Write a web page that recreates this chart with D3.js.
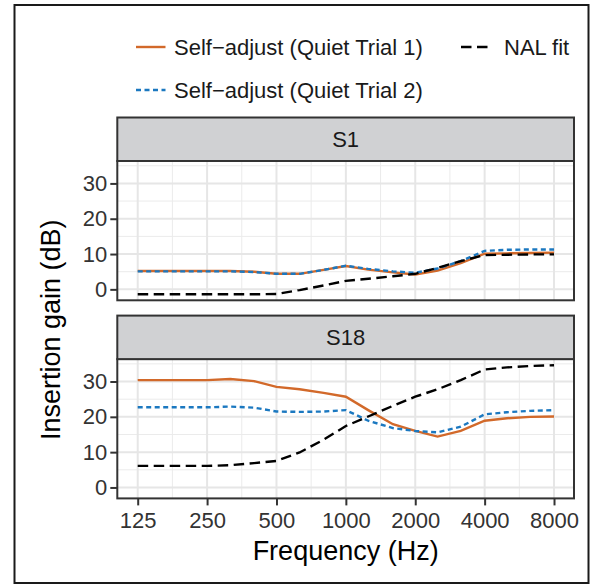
<!DOCTYPE html>
<html>
<head>
<meta charset="utf-8">
<script src="https://cdn.jsdelivr.net/npm/d3@7"></script>
<style>
  body { margin: 0; background: #fff; }
  text { font-family: "Liberation Sans", Arial, Helvetica, sans-serif; }
</style>
</head>
<body>
<script>
// insertion gain by frequency, one facet per subject

// data
var freqs = [125, 160, 200, 250, 315, 400, 500, 630, 800, 1000, 1250, 1600, 2000, 2500, 3150, 4000, 5000, 6300, 8000];
var xTicks = [125, 250, 500, 1000, 2000, 4000, 8000];
var yTicks = [0, 10, 20, 30];
var panels = ["S1", "S18"];
var seriesNames = ["Self\u2212adjust (Quiet Trial 1)", "Self\u2212adjust (Quiet Trial 2)", "NAL fit"];

var s1Trial1 = [5.2, 5.2, 5.2, 5.2, 5.2, 5.0, 4.4, 4.4, 5.5, 6.6, 5.6, 4.8, 4.2, 5.3, 7.4, 10.1, 10.2, 10.3, 10.4];
var s1Trial2 = [5.1, 5.1, 5.1, 5.1, 5.1, 4.9, 4.4, 4.4, 5.5, 6.7, 5.8, 5.1, 4.7, 5.9, 8.0, 10.9, 11.2, 11.3, 11.3];
var s1Nal    = [-1.4, -1.4, -1.4, -1.4, -1.4, -1.4, -1.3, -0.2, 1.1, 2.4, 3.0, 3.7, 4.4, 6.1, 8.0, 9.7, 9.8, 9.9, 9.9];

var s18Trial1 = [30.4, 30.4, 30.4, 30.4, 30.7, 30.1, 28.5, 27.8, 26.8, 25.7, 21.9, 17.9, 16.0, 14.4, 16.0, 18.9, 19.6, 20.0, 20.1];
var s18Trial2 = [22.7, 22.7, 22.7, 22.7, 22.9, 22.6, 21.5, 21.4, 21.5, 21.9, 18.9, 16.8, 16.0, 15.6, 17.2, 20.7, 21.3, 21.7, 21.9];
var s18Nal    = [6.1, 6.1, 6.1, 6.1, 6.3, 6.9, 7.5, 9.9, 13.5, 17.4, 20.1, 23.1, 25.7, 27.8, 30.4, 33.4, 34.0, 34.4, 34.6];

var panelData = [
    [s1Trial1, s1Trial2, s1Nal],
    [s18Trial1, s18Trial2, s18Nal]
];

// styles
var colors = ["#D2692A", "#1B78C0", "#000000"];
var dashes = [null, "5,3.5", "10.5,5.5"];

// layout
var svgWidth = 600;
var svgHeight = 586;
var panelLeft = 117.3;
var panelRight = 574;
var stripH = 43.5;
var panelH = 139.3;
var stripTops = [117.5, 315.6];

var svg = d3.select("body")
    .append("svg")
    .attr("width", svgWidth)
    .attr("height", svgHeight);

svg.append("rect")
    .attr("width", svgWidth)
    .attr("height", svgHeight)
    .attr("fill", "#fff");

// outer frame
svg.append("rect")
    .attr("x", 14.5)
    .attr("y", 5)
    .attr("width", 574)
    .attr("height", 578)
    .attr("fill", "none")
    .attr("stroke", "#1a1a1a")
    .attr("stroke-width", 2);

// x scale, log2 with ggplot style expansion
var xScale = d3.scaleLog()
    .base(2)
    .domain([125 / Math.pow(2, 0.294), 8000 * Math.pow(2, 0.288)])
    .range([panelLeft, panelRight]);

var xMinor = [];
for (var i = 0; i < xTicks.length - 1; i++) {
    xMinor.push(Math.sqrt(xTicks[i] * xTicks[i + 1]));
}
var yMinor = [5, 15, 25, 35];

panels.forEach(function(name, p) {
    var top = stripTops[p] + stripH;
    var bottom = top + panelH;

    var yScale = d3.scaleLinear()
        .domain([-3.1, 36.35])
        .range([bottom, top]);

    var g = svg.append("g");

    // grid
    g.selectAll(".xminor")
        .data(xMinor)
        .enter()
        .append("line")
        .attr("x1", d => xScale(d))
        .attr("x2", d => xScale(d))
        .attr("y1", top)
        .attr("y2", bottom)
        .attr("stroke", "#EBEBEB")
        .attr("stroke-width", 1);

    g.selectAll(".yminor")
        .data(yMinor)
        .enter()
        .append("line")
        .attr("x1", panelLeft)
        .attr("x2", panelRight)
        .attr("y1", d => yScale(d))
        .attr("y2", d => yScale(d))
        .attr("stroke", "#EBEBEB")
        .attr("stroke-width", 1);

    g.selectAll(".xmajor")
        .data(xTicks)
        .enter()
        .append("line")
        .attr("x1", d => xScale(d))
        .attr("x2", d => xScale(d))
        .attr("y1", top)
        .attr("y2", bottom)
        .attr("stroke", "#E6E6E6")
        .attr("stroke-width", 2);

    g.selectAll(".ymajor")
        .data(yTicks)
        .enter()
        .append("line")
        .attr("x1", panelLeft)
        .attr("x2", panelRight)
        .attr("y1", d => yScale(d))
        .attr("y2", d => yScale(d))
        .attr("stroke", "#E6E6E6")
        .attr("stroke-width", 2);

    // lines
    var line = d3.line()
        .x((d, k) => xScale(freqs[k]))
        .y(d => yScale(d));

    panelData[p].forEach(function(vals, s) {
        g.append("path")
            .datum(vals)
            .attr("d", line)
            .attr("fill", "none")
            .attr("stroke", colors[s])
            .attr("stroke-width", 2.4)
            .attr("stroke-dasharray", dashes[s]);
    });

    // panel border
    g.append("rect")
        .attr("x", panelLeft)
        .attr("y", top)
        .attr("width", panelRight - panelLeft)
        .attr("height", panelH)
        .attr("fill", "none")
        .attr("stroke", "#333")
        .attr("stroke-width", 2);

    // strip
    g.append("rect")
        .attr("x", panelLeft)
        .attr("y", stripTops[p])
        .attr("width", panelRight - panelLeft)
        .attr("height", stripH)
        .attr("fill", "#D0D1D3")
        .attr("stroke", "#333")
        .attr("stroke-width", 2);

    g.append("text")
        .attr("x", (panelLeft + panelRight) / 2)
        .attr("y", stripTops[p] + stripH / 2 + 8)
        .attr("text-anchor", "middle")
        .attr("font-size", 22)
        .attr("fill", "#1a1a1a")
        .text(name);

    // y axis
    var yAxis = g.append("g")
        .attr("transform", `translate(${panelLeft}, 0)`)
        .call(d3.axisLeft(yScale).tickValues(yTicks).tickSize(7).tickPadding(3));
    yAxis.select(".domain").remove();
    yAxis.selectAll("line").attr("stroke", "#333").attr("stroke-width", 2);
    yAxis.selectAll("text")
        .attr("font-size", 22)
        .attr("font-family", "Liberation Sans, Arial, sans-serif")
        .attr("fill", "#333");

    // x axis only on the bottom panel
    if (p === panels.length - 1) {
        var xAxis = g.append("g")
            .attr("transform", `translate(0, ${bottom})`)
            .call(d3.axisBottom(xScale).tickValues(xTicks).tickFormat(d3.format("d")).tickSize(7).tickPadding(7));
        xAxis.select(".domain").remove();
        xAxis.selectAll("line").attr("stroke", "#333").attr("stroke-width", 2);
        xAxis.selectAll("text")
            .attr("font-size", 22)
            .attr("font-family", "Liberation Sans, Arial, sans-serif")
            .attr("fill", "#333");

        g.append("text")
            .attr("x", (panelLeft + panelRight) / 2)
            .attr("y", 560)
            .attr("text-anchor", "middle")
            .attr("font-size", 27)
            .attr("fill", "#000")
            .text("Frequency (Hz)");
    }
});

// y title
svg.append("text")
    .attr("transform", `translate(60, ${(stripTops[0] + stripH + stripTops[1] + stripH + panelH) / 2}) rotate(-90)`)
    .attr("text-anchor", "middle")
    .attr("font-size", 27)
    .attr("fill", "#000")
    .text("Insertion gain (dB)");

// legend: two columns, filled by column
var legendItems = [
    {x: 136, y: 47, s: 0},
    {x: 136, y: 90, s: 1},
    {x: 461, y: 47, s: 2}
];
var legend = svg.append("g");
legendItems.forEach(function(item) {
    legend.append("line")
        .attr("x1", item.x)
        .attr("x2", item.x + 29.5)
        .attr("y1", item.y)
        .attr("y2", item.y)
        .attr("stroke", colors[item.s])
        .attr("stroke-width", 2.4)
        .attr("stroke-dasharray", dashes[item.s]);
    legend.append("text")
        .attr("x", item.s === 2 ? item.x + 43 : item.x + 38)
        .attr("y", item.y + 8)
        .attr("font-size", 22)
        .attr("fill", "#1a1a1a")
        .text(seriesNames[item.s]);
});
</script>
</body>
</html>
